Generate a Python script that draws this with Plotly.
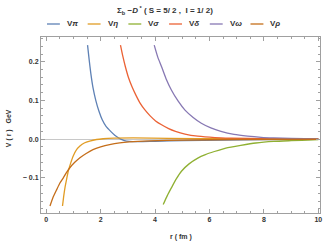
import plotly.graph_objects as go

# ---- data ----
r_pi = [1.52, 1.58, 1.64, 1.72, 1.82, 1.94, 2.06, 2.2, 2.37, 2.52, 2.67, 2.85, 3.05, 3.4, 4.0, 5.0, 6.5, 8.0, 10.0]
v_pi = [0.243, 0.205, 0.17, 0.133, 0.101, 0.072, 0.05, 0.033, 0.02, 0.01, 0.0026, -0.003, -0.006, -0.0065, -0.0055, -0.004, -0.0025, -0.0012, -0.0005]

r_eta = [0.6, 0.64, 0.69, 0.75, 0.81, 0.9, 0.99, 1.1, 1.24, 1.4, 1.6, 1.85, 2.09, 2.5, 3.2, 4.5, 6.5, 10.0]
v_eta = [-0.173, -0.15, -0.126, -0.104, -0.083, -0.062, -0.044, -0.029, -0.018, -0.010, -0.005, -0.001, 0.001, 0.0025, 0.003, 0.002, 0.001, 0.0002]

r_sigma = [4.3, 4.45, 4.6, 4.78, 4.97, 5.25, 5.57, 5.85, 6.18, 6.6, 7.15, 7.7, 8.36, 9.0, 9.8, 10.0]
v_sigma = [-0.169, -0.146, -0.126, -0.103, -0.083, -0.064, -0.049, -0.040, -0.032, -0.023, -0.016, -0.010, -0.006, -0.004, -0.002, -0.0015]

r_delta = [2.73, 2.82, 2.91, 3.02, 3.15, 3.3, 3.45, 3.62, 3.82, 4.02, 4.24, 4.5, 4.75, 5.1, 5.57, 6.2, 6.8, 8.0, 10.0]
v_delta = [0.243, 0.213, 0.187, 0.16, 0.136, 0.113, 0.093, 0.076, 0.06, 0.047, 0.037, 0.027, 0.02, 0.013, 0.0075, 0.004, 0.0026, 0.001, 0.0002]

r_omega = [3.97, 4.1, 4.24, 4.4, 4.6, 4.85, 5.1, 5.4, 5.7, 6.05, 6.42, 6.9, 7.4, 7.9, 8.36, 9.0, 10.0]
v_omega = [0.243, 0.212, 0.187, 0.157, 0.127, 0.098, 0.075, 0.056, 0.041, 0.029, 0.02, 0.012, 0.0075, 0.0045, 0.003, 0.0018, 0.0008]

r_rho = [0.14, 0.25, 0.39, 0.5, 0.63, 0.75, 0.87, 1.05, 1.24, 1.47, 1.72, 2.0, 2.33, 2.7, 3.06, 3.8, 5.0, 7.0, 10.0]
v_rho = [-0.173, -0.151, -0.13, -0.114, -0.1, -0.086, -0.074, -0.06, -0.048, -0.037, -0.027, -0.02, -0.014, -0.0095, -0.007, -0.0045, -0.0025, -0.001, -0.0003]

names = ["V<i>π</i>", "V<i>η</i>", "V<i>σ</i>", "V<i>δ</i>", "V<i>ω</i>", "V<i>ρ</i>"]
colors = ["#5E81B5", "#E19C24", "#8FB032", "#EB6235", "#8778B3", "#C56E1A"]
series = [(r_pi, v_pi), (r_eta, v_eta), (r_sigma, v_sigma), (r_delta, v_delta), (r_omega, v_omega), (r_rho, v_rho)]

x_ticks = [0, 2, 4, 6, 8, 10]
y_ticks = [-0.1, 0.0, 0.1, 0.2]
y_ticktext = ["− 0.1", "0.0", "0.1", "0.2"]

FONT = "Liberation Sans, Arial, sans-serif"

fig = go.Figure()
for (xs, ys), nm, c in zip(series, names, colors):
    fig.add_trace(go.Scatter(x=xs, y=ys, mode="lines", name=nm,
                             line=dict(color=c, width=1.3, shape="spline", smoothing=0.6),
                             showlegend=False))

# plot area in pixels
L, R, T, B = 41, 12, 37, 31
W, H = 334, 244
pw = W - L - R
ph = H - T - B

def px(xp):
    return (xp - L) / pw

def py(yp):
    return (H - B - yp) / ph

# custom legend
x0 = 47
step = 41
for i, (nm, c) in enumerate(zip(names, colors)):
    xs = x0 + i * step
    fig.add_shape(type="line", xref="paper", yref="paper",
                  x0=px(xs), x1=px(xs + 13), y0=py(24), y1=py(24),
                  line=dict(color=c, width=1.3))
    fig.add_annotation(xref="paper", yref="paper", x=px(xs + 18), y=py(24),
                       text="<b>" + nm + "</b>", showarrow=False, xanchor="left", yanchor="middle",
                       font=dict(size=8, color="#333333", family=FONT))

fig.add_annotation(xref="paper", yref="paper", x=px(166), y=py(10),
                   text="<b>Σ<sub>b</sub> −<i>D</i><sup> *</sup> ( S = 5/ 2 ,  I = 1/ 2)</b>",
                   showarrow=False, xanchor="center", yanchor="middle",
                   font=dict(size=8, color="#333333", family=FONT))
fig.add_annotation(xref="paper", yref="paper", x=px(9), y=py(128),
                   text="<b>V ( r )   GeV</b>", textangle=-90, showarrow=False,
                   xanchor="center", yanchor="middle",
                   font=dict(size=7, color="#333333", family=FONT))
fig.add_annotation(xref="paper", yref="paper", x=px(182), y=py(237),
                   text="<b>r ( fm )</b>", showarrow=False,
                   xanchor="center", yanchor="middle",
                   font=dict(size=7, color="#333333", family=FONT))

fig.update_xaxes(range=[-0.19, 10.06], tickvals=x_ticks, ticktext=[f"<b>{v}</b>" for v in x_ticks],
                 showline=True, linecolor="#a0a0a0", linewidth=1, mirror="allticks",
                 ticks="inside", ticklen=4, tickcolor="#a0a0a0", showgrid=False, zeroline=False,
                 minor=dict(ticks="inside", dtick=0.5, tick0=0, ticklen=2, tickcolor="#a0a0a0"),
                 tickfont=dict(size=7, color="#333333", family=FONT))
fig.update_yaxes(range=[-0.191, 0.264], tickvals=y_ticks, ticktext=[f"<b>{t}</b>" for t in y_ticktext],
                 showline=True, linecolor="#a0a0a0", linewidth=1, mirror="allticks",
                 ticks="inside", ticklen=4, tickcolor="#a0a0a0", showgrid=False,
                 zeroline=True, zerolinecolor="#c8c8c8", zerolinewidth=1,
                 minor=dict(ticks="inside", dtick=0.02, tick0=0, ticklen=2, tickcolor="#a0a0a0"),
                 tickfont=dict(size=7, color="#333333", family=FONT))

fig.update_layout(width=W, height=H, margin=dict(l=L, r=R, t=T, b=B),
                  paper_bgcolor="white", plot_bgcolor="white")

fig.write_html("out.html", config={"displayModeBar": False},
               post_script="document.body.style.margin='0';document.body.style.overflow='hidden';")
